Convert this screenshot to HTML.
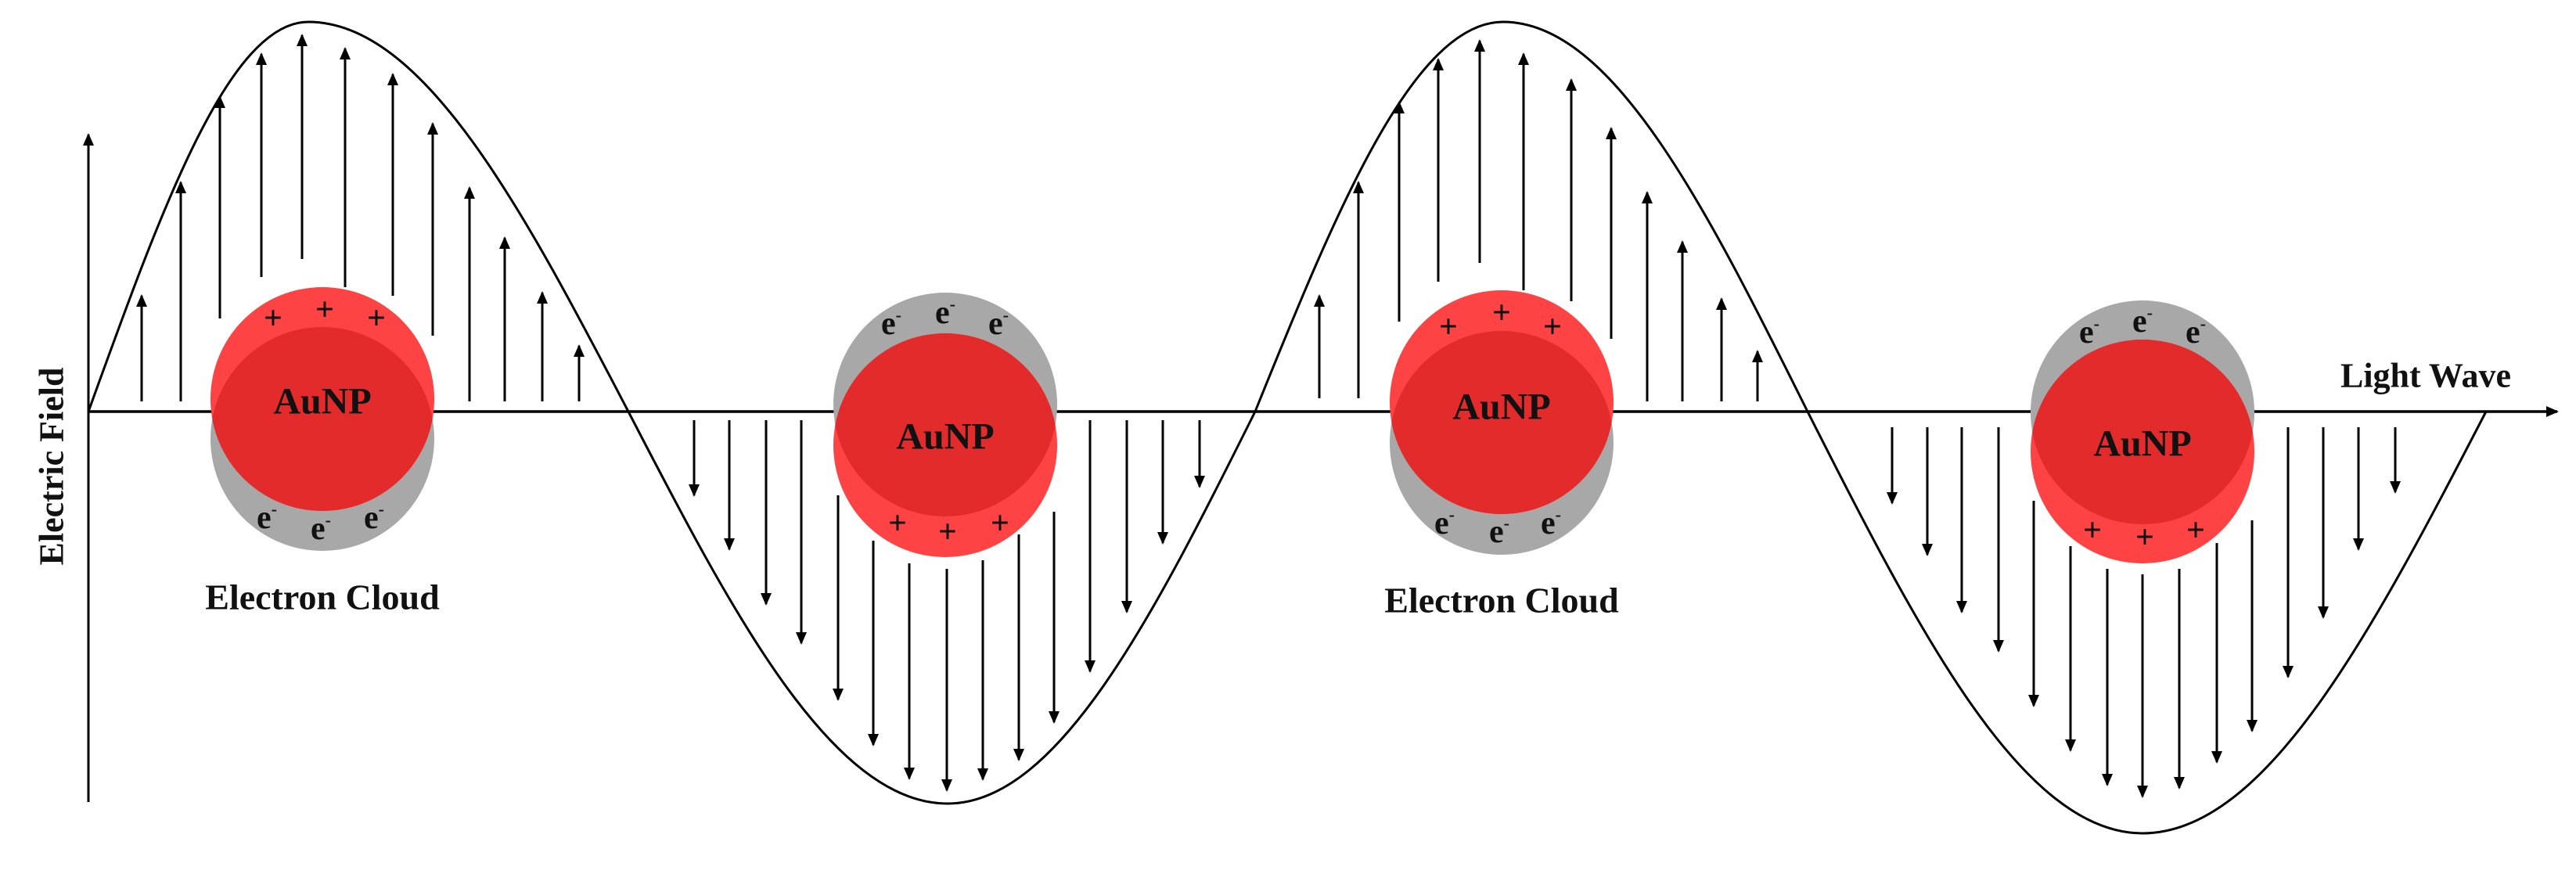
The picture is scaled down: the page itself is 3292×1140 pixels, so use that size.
<!DOCTYPE html>
<html><head><meta charset="utf-8"><style>
html,body{margin:0;padding:0;background:#fff;}
svg{display:block;}
text{font-family:"Liberation Serif","DejaVu Serif",serif;font-weight:bold;fill:#111;}
</style></head><body>
<svg width="3292" height="1140" viewBox="0 0 3292 1140" xmlns="http://www.w3.org/2000/svg">
<defs>
<marker id="ah2" markerWidth="16" markerHeight="14" refX="14" refY="7" orient="auto" markerUnits="userSpaceOnUse" viewBox="0 0 16 14">
<path d="M0,0 L16,7 L0,14 z" fill="#000"/></marker>
<clipPath id="c1"><circle cx="412" cy="561" r="143"/></clipPath>
<clipPath id="c2"><circle cx="1208" cy="517" r="143"/></clipPath>
<clipPath id="c3"><circle cx="1919" cy="566" r="143"/></clipPath>
<clipPath id="c4"><circle cx="2738" cy="527" r="143"/></clipPath>
</defs>

<line x1="113" y1="1025" x2="113" y2="172" stroke="#000" stroke-width="3" marker-end="url(#ah2)"/>
<line x1="113" y1="526" x2="3268" y2="526" stroke="#000" stroke-width="3.5" marker-end="url(#ah2)"/>

<path d="M113,526 C205,271 292,28 394,28 C542,28 670,271 803,526 C936,783 1063,1027 1211,1027 C1353,1027 1476,783 1604,526 C1707,271 1806,28 1921,28 C2062,28 2183,271 2310,526 C2450,802 2583,1065 2738,1065 C2897,1065 3034,802 3177,526" fill="none" stroke="#000" stroke-width="3"/>

<g stroke="#000" stroke-width="3" marker-end="url(#ah2)">
<line x1="181" y1="513" x2="181" y2="378"/>
<line x1="231" y1="513" x2="231" y2="233"/>
<line x1="281" y1="407" x2="281" y2="124"/>
<line x1="334" y1="354" x2="334" y2="69"/>
<line x1="386" y1="331" x2="386" y2="45"/>
<line x1="441" y1="367" x2="441" y2="62"/>
<line x1="502" y1="378" x2="502" y2="95"/>
<line x1="553" y1="429" x2="553" y2="158"/>
<line x1="600" y1="513" x2="600" y2="240"/>
<line x1="645" y1="513" x2="645" y2="304"/>
<line x1="693" y1="513" x2="693" y2="374"/>
<line x1="740" y1="513" x2="740" y2="442"/>
<line x1="887" y1="537" x2="887" y2="633"/>
<line x1="932" y1="537" x2="932" y2="702"/>
<line x1="979" y1="537" x2="979" y2="772"/>
<line x1="1024" y1="537" x2="1024" y2="822"/>
<line x1="1071" y1="633" x2="1071" y2="894"/>
<line x1="1116" y1="691" x2="1116" y2="952"/>
<line x1="1162" y1="720" x2="1162" y2="995"/>
<line x1="1210" y1="727" x2="1210" y2="1010"/>
<line x1="1256" y1="716" x2="1256" y2="996"/>
<line x1="1302" y1="683" x2="1302" y2="971"/>
<line x1="1347" y1="654" x2="1347" y2="923"/>
<line x1="1393" y1="537" x2="1393" y2="858"/>
<line x1="1440" y1="537" x2="1440" y2="782"/>
<line x1="1486" y1="537" x2="1486" y2="694"/>
<line x1="1533" y1="537" x2="1533" y2="622"/>
<line x1="1686" y1="509" x2="1686" y2="378"/>
<line x1="1736" y1="509" x2="1736" y2="233"/>
<line x1="1788" y1="411" x2="1788" y2="131"/>
<line x1="1838" y1="360" x2="1838" y2="76"/>
<line x1="1891" y1="336" x2="1891" y2="52"/>
<line x1="1947" y1="371" x2="1947" y2="69"/>
<line x1="2008" y1="385" x2="2008" y2="102"/>
<line x1="2059" y1="433" x2="2059" y2="164"/>
<line x1="2105" y1="513" x2="2105" y2="246"/>
<line x1="2150" y1="513" x2="2150" y2="309"/>
<line x1="2200" y1="513" x2="2200" y2="382"/>
<line x1="2246" y1="513" x2="2246" y2="449"/>
<line x1="2418" y1="546" x2="2418" y2="643"/>
<line x1="2463" y1="546" x2="2463" y2="709"/>
<line x1="2507" y1="546" x2="2507" y2="782"/>
<line x1="2554" y1="546" x2="2554" y2="832"/>
<line x1="2599" y1="640" x2="2599" y2="902"/>
<line x1="2646" y1="698" x2="2646" y2="959"/>
<line x1="2693" y1="727" x2="2693" y2="1003"/>
<line x1="2738" y1="734" x2="2738" y2="1018"/>
<line x1="2785" y1="727" x2="2785" y2="1007"/>
<line x1="2833" y1="694" x2="2833" y2="974"/>
<line x1="2878" y1="665" x2="2878" y2="934"/>
<line x1="2924" y1="546" x2="2924" y2="865"/>
<line x1="2969" y1="546" x2="2969" y2="789"/>
<line x1="3014" y1="546" x2="3014" y2="702"/>
<line x1="3061" y1="546" x2="3061" y2="629"/>
</g>

<circle cx="412" cy="561" r="143" fill="#a8a8a8"/>
<circle cx="412" cy="510" r="143" fill="#fd4343"/>
<circle cx="412" cy="510" r="143" fill="#e32b2b" clip-path="url(#c1)"/>
<circle cx="1208" cy="517" r="143" fill="#a8a8a8"/>
<circle cx="1208" cy="569" r="143" fill="#fd4343"/>
<circle cx="1208" cy="569" r="143" fill="#e32b2b" clip-path="url(#c2)"/>
<circle cx="1919" cy="566" r="143" fill="#a8a8a8"/>
<circle cx="1919" cy="514" r="143" fill="#fd4343"/>
<circle cx="1919" cy="514" r="143" fill="#e32b2b" clip-path="url(#c3)"/>
<circle cx="2738" cy="527" r="143" fill="#a8a8a8"/>
<circle cx="2738" cy="577" r="143" fill="#fd4343"/>
<circle cx="2738" cy="577" r="143" fill="#e32b2b" clip-path="url(#c4)"/>

<g font-size="48" text-anchor="middle" dominant-baseline="central">
<text x="412" y="513">AuNP</text>
<text x="1208" y="558">AuNP</text>
<text x="1919" y="520">AuNP</text>
<text x="2738" y="567">AuNP</text>
</g>

<g font-size="42" text-anchor="middle" dominant-baseline="central">
<text x="349" y="407">+</text><text x="415" y="396">+</text><text x="481" y="407">+</text>
<text x="341" y="662">e<tspan font-size="22" dy="-12">-</tspan></text>
<text x="410" y="676">e<tspan font-size="22" dy="-12">-</tspan></text>
<text x="478" y="662">e<tspan font-size="22" dy="-12">-</tspan></text>
<text x="1139" y="414">e<tspan font-size="22" dy="-12">-</tspan></text>
<text x="1208" y="400">e<tspan font-size="22" dy="-12">-</tspan></text>
<text x="1276" y="414">e<tspan font-size="22" dy="-12">-</tspan></text>
<text x="1147" y="669">+</text><text x="1211" y="680">+</text><text x="1278" y="669">+</text>
<text x="1851" y="418">+</text><text x="1919" y="400">+</text><text x="1984" y="418">+</text>
<text x="1846" y="669">e<tspan font-size="22" dy="-12">-</tspan></text>
<text x="1916" y="680">e<tspan font-size="22" dy="-12">-</tspan></text>
<text x="1982" y="669">e<tspan font-size="22" dy="-12">-</tspan></text>
<text x="2670" y="425">e<tspan font-size="22" dy="-12">-</tspan></text>
<text x="2738" y="411">e<tspan font-size="22" dy="-12">-</tspan></text>
<text x="2806" y="425">e<tspan font-size="22" dy="-12">-</tspan></text>
<text x="2674" y="678">+</text><text x="2741" y="687">+</text><text x="2806" y="678">+</text>
</g>

<g font-size="46" text-anchor="middle" dominant-baseline="central">
<text x="412" y="763">Electron Cloud</text>
<text x="1919" y="767">Electron Cloud</text>
<text x="3100" y="480" font-size="44">Light Wave</text>
<text x="0" y="0" font-size="44" transform="translate(66,596) rotate(-90)">Electric Field</text>
</g>
</svg>
</body></html>
